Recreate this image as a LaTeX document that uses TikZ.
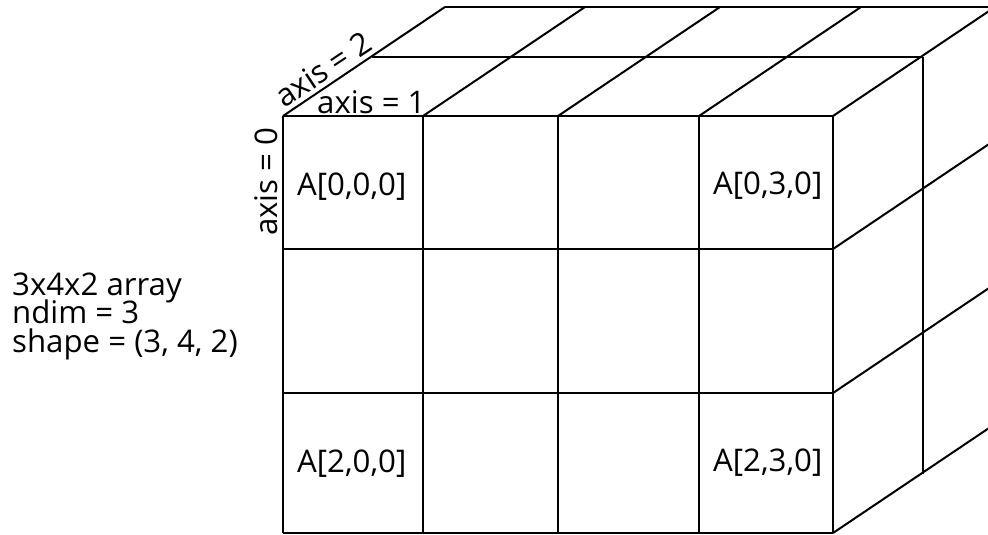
\documentclass[tikz,border=0pt]{standalone}
\usepackage{fontspec}
\setmainfont{Open Sans}
\begin{document}
\begin{tikzpicture}[x=1pt,y=-1pt,
  edge/.style={line width=2pt, line join=miter},
  lbl/.style={inner sep=0pt, font=\fontsize{31.2}{31.2}\selectfont}]
\useasboundingbox (0,0) rectangle (988,535);
\begin{scope}
\clip (0,0) rectangle (988,535);
% front face grid
\foreach \x in {283,423,558,699,833} \draw[edge] (\x,116) -- (\x,533);
\foreach \y in {116,249,393,533} \draw[edge] (283,\y) -- (833,\y);
% top face
\foreach \x in {283,423,558,699,833} \draw[edge] (\x,116) -- ++(162,-109);
\draw[edge] (372,57) -- (923,57);
\draw[edge] (445,7) -- (995,7);
% right face
\draw[edge] (923,57) -- (923,474);
\foreach \y in {249,393,533} \draw[edge] (833,\y) -- ++(162,-109);
\end{scope}
% labels
\node[lbl, anchor=base west] (a000) at (297,195) {A[0,0,0]};
\node[lbl, anchor=base west] (a030) at (713,194) {A[0,3,0]};
\node[lbl, anchor=base west] (a200) at (297,472) {A[2,0,0]};
\node[lbl, anchor=base west] (a230) at (713,471) {A[2,3,0]};
\node[lbl, anchor=base west] (ax1) at (317,113) {axis = 1};
\node[lbl, anchor=base west, rotate=90] (ax0) at (277,236) {axis = 0};
\node[lbl, anchor=base west, rotate=33.5] (ax2) at (284,109) {axis = 2};
\node[lbl, anchor=base west] (t1) at (12,295) {3x4x2 array};
\node[lbl, anchor=base west] (t2) at (12,323) {ndim = 3};
\node[lbl, anchor=base west] (t3) at (12,352) {shape = (3, 4, 2)};
\end{tikzpicture}
\end{document}
